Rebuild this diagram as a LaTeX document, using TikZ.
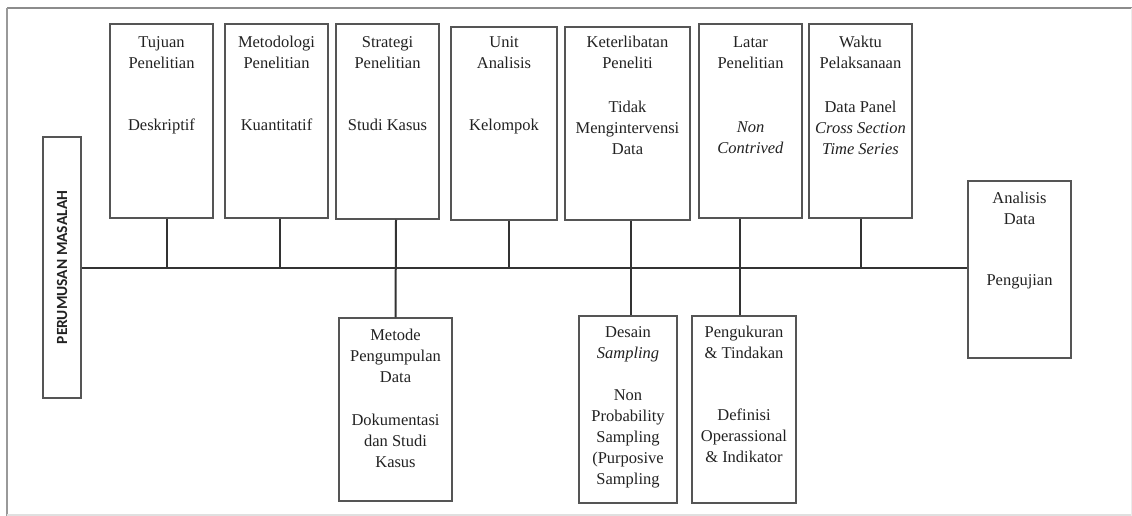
\documentclass[tikz,border=0pt]{standalone}
\usepackage{fontspec}
\setmainfont{Liberation Serif}
\newfontfamily\boxfont{Liberation Serif}
\newfontfamily\labelsans{Carlito}
\definecolor{ink}{HTML}{222222}
\definecolor{boxline}{HTML}{555555}
\definecolor{connline}{HTML}{333333}
\tikzset{
  box/.style={draw=boxline, line width=1.5pt, fill=white, inner sep=0pt},
  txt/.style={align=center, anchor=north, inner sep=0pt, text=ink,
    font=\boxfont\fontsize{16.5}{21}\selectfont},
  conn/.style={draw=connline, line width=2pt},
  spineline/.style={draw=connline, line width=2.5pt},
}
\newcommand{\boxat}[5]{% name, x1, y1, x2, y2
  \node[box, minimum width={#4-#2}, minimum height={#5-#3}] (#1) at ({(#2+#4)/2},{(#3+#5)/2}) {};}
\begin{document}
\begin{tikzpicture}[x=1pt,y=-1pt]
\useasboundingbox (0,0) rectangle (1132,516);
\fill[white] (0,0) rectangle (1132,516);
% outer frame
\draw[draw=black!45, line width=2pt] (7,8) -- (1132,8);
\draw[draw=black!40, line width=2pt] (7,8) -- (7,516);
\draw[draw=black!12, line width=1.5pt] (7,515) -- (1132,515);
\draw[draw=black!8, line width=1pt] (1131,8) -- (1131,516);

% boxes
\boxat{p}{43}{137}{81}{398}
\boxat{t1}{110}{24}{213}{218}
\boxat{t2}{225}{24}{328}{218}
\boxat{t3}{336}{24}{439}{219}
\boxat{t4}{451}{27}{557}{220}
\boxat{t5}{565}{27}{690}{220}
\boxat{t6}{699}{24}{802}{218}
\boxat{t7}{809}{24}{912}{218}
\boxat{a}{968}{181}{1071}{358}
\boxat{b1}{339}{318}{452}{501}
\boxat{b2}{579}{316}{677}{503}
\boxat{b3}{692}{316}{796}{503}

\node[rotate=90, text=ink, font=\labelsans\bfseries\fontsize{15.5}{17}\selectfont] (pt) at (p.center) {PERUMUSAN MASALAH};

\coordinate (spine) at (0,268);
% connectors
\draw[spineline] (p.east |- spine) -- (a.west |- spine);
\draw[conn] ([xshift=5.5]t1.south) -- ([xshift=5.5]t1.south |- spine);
\draw[conn] ([xshift=3.5]t2.south) -- ([xshift=3.5]t2.south |- spine);
\draw[conn] ([xshift=8.5]t3.south) -- (b1.north);
\draw[conn] ([xshift=5]t4.south) -- ([xshift=5]t4.south |- spine);
\draw[conn] ([xshift=3.5]t5.south) -- ([xshift=3]b2.north);
\draw[conn] ([xshift=-10.5]t6.south) -- ([xshift=-4]b3.north);
\draw[conn] ([xshift=0.5]t7.south) -- ([xshift=0.5]t7.south |- spine);

% texts
\node[txt] (t1a) at (161.5,32.3) {\strut Tujuan\\Penelitian};
\node[txt] (t1b) at (161.5,115.3) {\strut Deskriptif};
\node[txt] (t2a) at (276.5,32.3) {\strut Metodologi\\Penelitian};
\node[txt] (t2b) at (276.5,115.3) {\strut Kuantitatif};
\node[txt] (t3a) at (387.5,32.3) {\strut Strategi\\Penelitian};
\node[txt] (t3b) at (387.5,115.3) {\strut Studi Kasus};
\node[txt] (t4a) at (504,32.3) {\strut Unit\\Analisis};
\node[txt] (t4b) at (504,115.3) {\strut Kelompok};
\node[txt] (t5a) at (627.5,32.3) {\strut Keterlibatan\\Peneliti};
\node[txt] (t5b) at (627.5,97.3) {\strut Tidak\\Mengintervensi\\Data};
\node[txt] (t6a) at (750.5,32.3) {\strut Latar\\Penelitian};
\node[txt] (t6b) at (750.5,117.3) {\strut\textit{Non}\\\textit{Contrived}};
\node[txt] (t7a) at (860.5,32.3) {\strut Waktu\\Pelaksanaan};
\node[txt] (t7b) at (860.5,97.3) {\strut Data Panel\\\textit{Cross Section}\\\textit{Time Series}};
\node[txt] (aa) at (1019.5,188.3) {\strut Analisis\\Data};
\node[txt] (ab) at (1019.5,270.3) {\strut Pengujian};
\node[txt] (b1a) at (395.5,325.3) {\strut Metode\\Pengumpulan\\Data};
\node[txt] (b1b) at (395.5,410.3) {\strut Dokumentasi\\dan Studi\\Kasus};
\node[txt] (b2a) at (628,322.3) {\strut Desain\\\textit{Sampling}};
\node[txt] (b2b) at (628,385.3) {\strut Non\\Probability\\Sampling\\(Purposive\\Sampling};
\node[txt] (b3a) at (744,322.3) {\strut Pengukuran\\\& Tindakan};
\node[txt] (b3b) at (744,405.3) {\strut Definisi\\Operassional\\\& Indikator};
\end{tikzpicture}
\end{document}
